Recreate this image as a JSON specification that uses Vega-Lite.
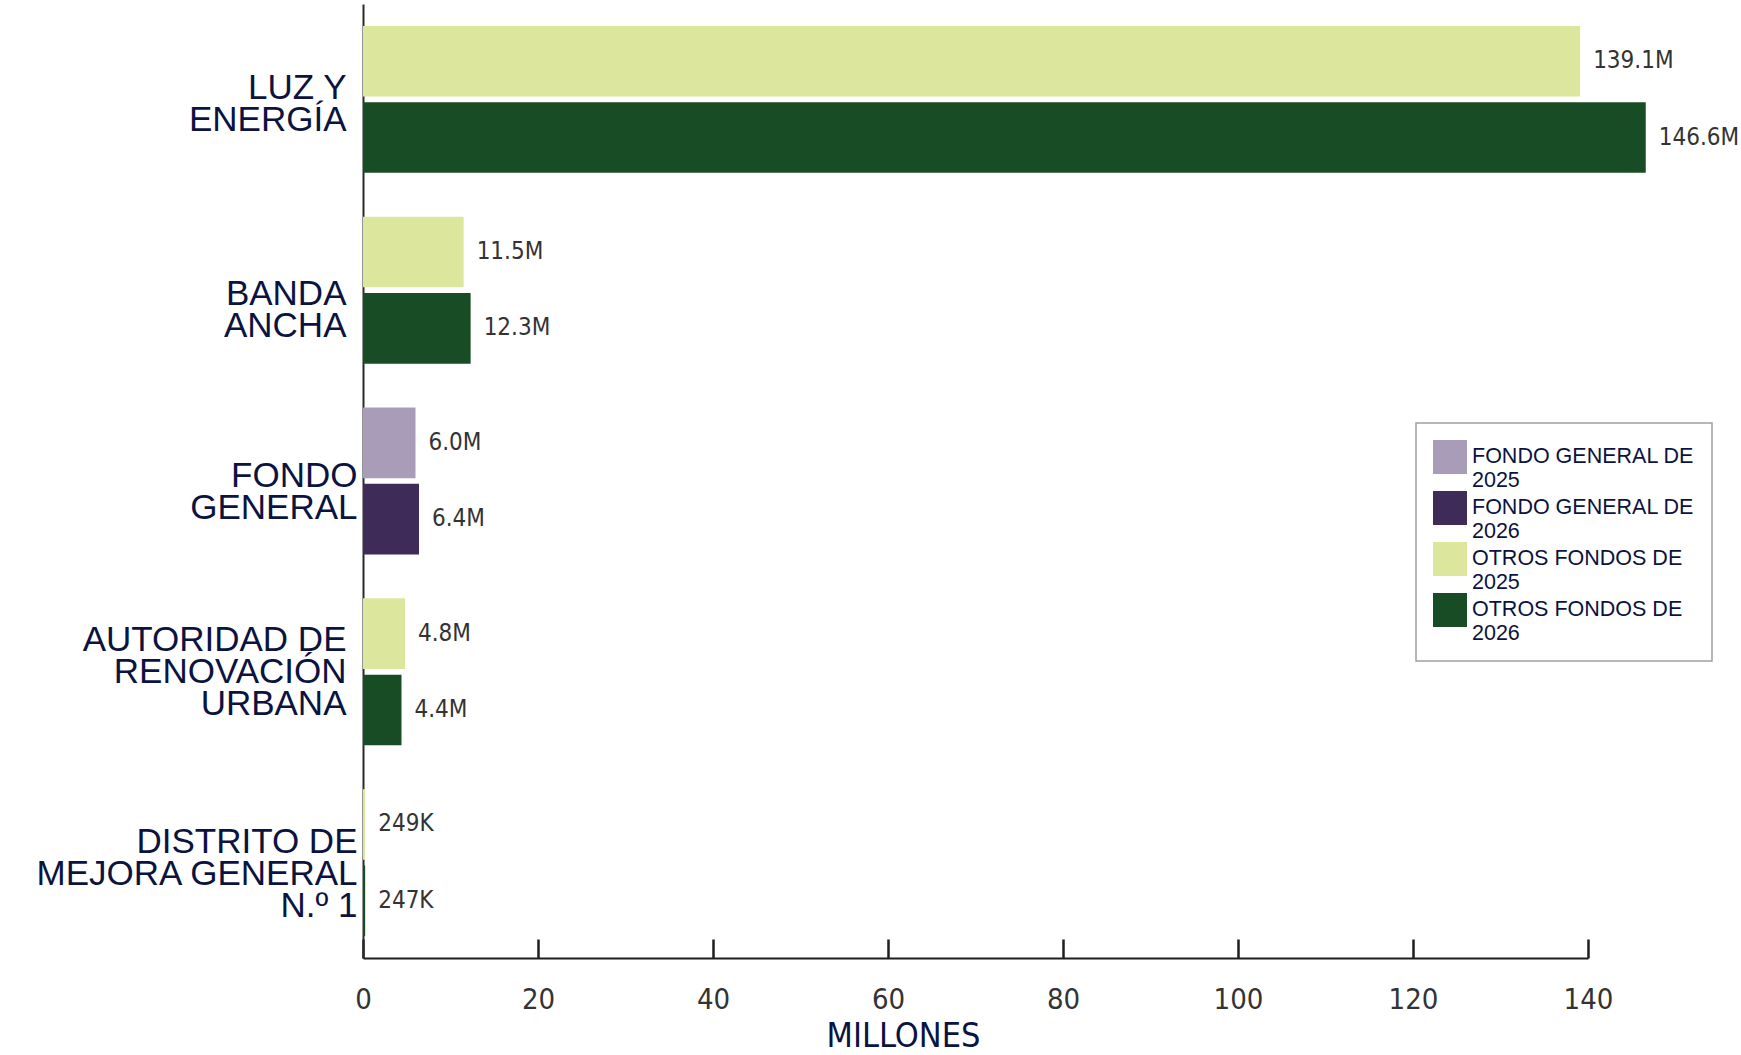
{
  "$schema": "https://vega.github.io/schema/vega-lite/v6.json",
  "autosize": "none",
  "padding": {"left": 363, "top": 4, "right": 153, "bottom": 97},
  "width": 1225,
  "height": 954,
  "background": "white",
  "data": {
    "values": [
      {"categoria": "LUZ Y ENERGÍA", "anio": "2025", "serie": "OTROS FONDOS DE 2025", "valor": 139.1, "etiqueta": "139.1M"},
      {"categoria": "LUZ Y ENERGÍA", "anio": "2026", "serie": "OTROS FONDOS DE 2026", "valor": 146.6, "etiqueta": "146.6M"},
      {"categoria": "BANDA ANCHA", "anio": "2025", "serie": "OTROS FONDOS DE 2025", "valor": 11.5, "etiqueta": "11.5M"},
      {"categoria": "BANDA ANCHA", "anio": "2026", "serie": "OTROS FONDOS DE 2026", "valor": 12.3, "etiqueta": "12.3M"},
      {"categoria": "FONDO GENERAL", "anio": "2025", "serie": "FONDO GENERAL DE 2025", "valor": 6.0, "etiqueta": "6.0M"},
      {"categoria": "FONDO GENERAL", "anio": "2026", "serie": "FONDO GENERAL DE 2026", "valor": 6.4, "etiqueta": "6.4M"},
      {"categoria": "AUTORIDAD DE RENOVACIÓN URBANA", "anio": "2025", "serie": "OTROS FONDOS DE 2025", "valor": 4.8, "etiqueta": "4.8M"},
      {"categoria": "AUTORIDAD DE RENOVACIÓN URBANA", "anio": "2026", "serie": "OTROS FONDOS DE 2026", "valor": 4.4, "etiqueta": "4.4M"},
      {"categoria": "DISTRITO DE MEJORA GENERAL N.º 1", "anio": "2025", "serie": "OTROS FONDOS DE 2025", "valor": 0.249, "etiqueta": "249K"},
      {"categoria": "DISTRITO DE MEJORA GENERAL N.º 1", "anio": "2026", "serie": "OTROS FONDOS DE 2026", "valor": 0.247, "etiqueta": "247K"}
    ]
  },
  "encoding": {
    "y": {
      "field": "categoria",
      "type": "nominal",
      "sort": null,
      "scale": {"paddingInner": 0.23, "paddingOuter": 0.115},
      "axis": {
        "title": null,
        "ticks": false,
        "domain": true,
        "domainColor": "#2a2a2a",
        "domainWidth": 2,
        "labelFont": "Liberation Sans",
        "labelFontSize": 35,
        "labelLineHeight": 32,
        "labelColor": "#0b1340",
        "labelPadding": {
          "condition": {"test": "datum.value == 'FONDO GENERAL' || datum.value == 'DISTRITO DE MEJORA GENERAL N.º 1'", "value": 6},
          "value": 17
        },
        "labelOffset": {
          "condition": [
            {"test": "datum.value == 'LUZ Y ENERGÍA'", "value": -11},
            {"test": "datum.value == 'BANDA ANCHA'", "value": 4},
            {"test": "datum.value == 'FONDO GENERAL'", "value": -5},
            {"test": "datum.value == 'AUTORIDAD DE RENOVACIÓN URBANA'", "value": -32}
          ],
          "value": -21
        },
        "labelLimit": 400,
        "labelBaseline": "middle",
        "labelExpr": "datum.label == 'LUZ Y ENERGÍA' ? ['LUZ Y', 'ENERGÍA'] : datum.label == 'BANDA ANCHA' ? ['BANDA', 'ANCHA'] : datum.label == 'FONDO GENERAL' ? ['FONDO', 'GENERAL'] : datum.label == 'AUTORIDAD DE RENOVACIÓN URBANA' ? ['AUTORIDAD DE', 'RENOVACIÓN', 'URBANA'] : ['DISTRITO DE', 'MEJORA GENERAL', 'N.º 1']"
      }
    },
    "yOffset": {
      "field": "anio",
      "type": "nominal",
      "scale": {"paddingInner": 0.075, "paddingOuter": 0}
    },
    "x": {
      "field": "valor",
      "type": "quantitative",
      "scale": {"domain": [0, 140], "nice": false},
      "axis": {
        "title": "MILLONES",
        "values": [0, 20, 40, 60, 80, 100, 120, 140],
        "grid": false,
        "domainColor": "#1e1e1e",
        "domainWidth": 2,
        "tickColor": "#1e1e1e",
        "tickWidth": 2.5,
        "tickSize": -19,
        "labelFlush": false,
        "labelFont": "DejaVu Sans Condensed",
        "labelFontSize": 29,
        "labelColor": "#333333",
        "labelPadding": 46,
        "labelBaseline": "top",
        "titleFont": "DejaVu Sans Condensed",
        "titleFontSize": 34,
        "titleFontWeight": "normal",
        "titleColor": "#0b1340",
        "titleX": 540,
        "titleY": 78,
        "titleAlign": "center",
        "titleBaseline": "middle"
      }
    }
  },
  "layer": [
    {
      "mark": {"type": "bar"},
      "encoding": {
        "color": {
          "field": "serie",
          "type": "nominal",
          "scale": {
            "domain": ["FONDO GENERAL DE 2025", "FONDO GENERAL DE 2026", "OTROS FONDOS DE 2025", "OTROS FONDOS DE 2026"],
            "range": ["#a99cb8", "#3e2b57", "#dce69c", "#184c25"]
          },
          "legend": {
            "orient": "none",
            "legendX": 1053,
            "legendY": 419,
            "title": null,
            "symbolType": "square",
            "symbolSize": 1156,
            "symbolStrokeWidth": 0,
            "symbolOpacity": 1,
            "labelFont": "Liberation Sans",
            "labelFontSize": 21.5,
            "labelColor": "#0b1340",
            "labelOffset": 5,
            "labelLimit": 300,
            "labelBaseline": "middle",
            "rowPadding": -5,
            "padding": 17,
            "strokeColor": "#a0a0a0",
            "fillColor": "white",
            "labelExpr": "split(replace(datum.label, ' DE 20', ' DE|20'), '|')"
          }
        }
      }
    },
    {
      "mark": {
        "type": "text",
        "align": "left",
        "baseline": "middle",
        "dx": 13,
        "font": "DejaVu Sans Condensed",
        "fontSize": 24,
        "color": "#333333"
      },
      "encoding": {
        "text": {"field": "etiqueta", "type": "nominal"}
      }
    }
  ],
  "config": {
    "view": {"stroke": null},
    "legend": {"strokeWidth": 1.5}
  }
}
